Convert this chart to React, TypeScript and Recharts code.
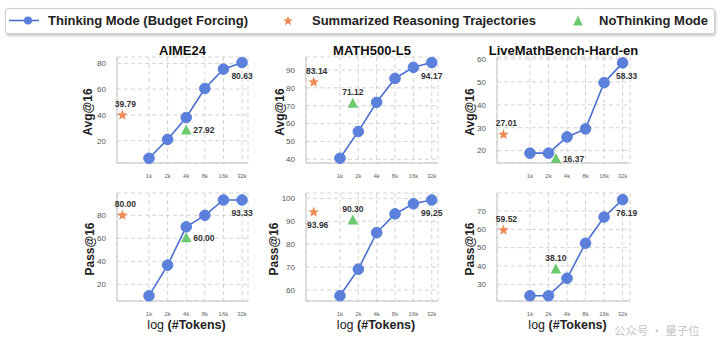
import { ComposedChart, Line, Scatter, XAxis, YAxis, CartesianGrid } from 'recharts';

// token budgets, placed on a log2 axis (1k = 0 ... 32k = 5)
const tokenLabels = ['1k', '2k', '4k', '8k', '16k', '32k'];
const tokenSteps = [0, 1, 2, 3, 4, 5];

// Thinking Mode (Budget Forcing)
const aimeAvg = [6.4, 21, 38, 60.5, 75.5, 80.63];
const mathAvg = [40.6, 55.6, 71.9, 85.3, 91.5, 94.17];
const liveAvg = [18.9, 18.9, 26, 29.5, 49.7, 58.33];
const aimePass = [10, 36.7, 70, 80, 93.33, 93.33];
const mathPass = [57.5, 69.1, 85, 93.2, 97.6, 99.25];
const livePass = [23.8, 23.8, 33.3, 52.4, 66.7, 76.19];

// single points: AIME24, MATH500-L5, LiveMathBench-Hard-en
const summarizedAvg = [39.79, 83.14, 27.01];
const summarizedPass = [80.0, 93.96, 59.52];
const noThinkingAvg = [27.92, 71.12, 16.37];
const noThinkingPass = [60.0, 90.3, 38.1];
const noThinkingStep = [2, 0.7, 1.4];
const summarizedStep = -1.43;

const benchmarks = ['AIME24', 'MATH500-L5', 'LiveMathBench-Hard-en'];

const FONT = '"Liberation Sans", Arial, sans-serif';
const BLUE = '#5b80db';
const LINE_BLUE = '#4b6fcf';
const ORANGE = '#ee8b55';
const GREEN = '#6cc96f';

const cols = [
  { left: 117, right: 248, xDomain: [-1.72, 5.32] },
  { left: 306, right: 438, xDomain: [-1.85, 5.34] },
  { left: 497, right: 630, xDomain: [-1.78, 5.4] },
];
const rows = [
  { top: 57, bottom: 163 },
  { top: 193, bottom: 301 },
];

type Place = 'above' | 'below' | 'right';

interface PanelSpec {
  col: number;
  row: number;
  thinking: number[];
  summarized: number;
  noThinking: number;
  triStep: number;
  yDomain: [number, number];
  yTicks: number[];
  starPlace: Place;
  triPlace: Place;
  lastDx: number;
}

const panels: PanelSpec[] = [
  { col: 0, row: 0, thinking: aimeAvg, summarized: summarizedAvg[0], noThinking: noThinkingAvg[0], triStep: noThinkingStep[0], yDomain: [2.7, 84.9], yTicks: [20, 40, 60, 80], starPlace: 'above', triPlace: 'right', lastDx: 0 },
  { col: 1, row: 0, thinking: mathAvg, summarized: summarizedAvg[1], noThinking: noThinkingAvg[1], triStep: noThinkingStep[1], yDomain: [37.9, 97.3], yTicks: [40, 50, 60, 70, 80, 90], starPlace: 'above', triPlace: 'above', lastDx: 0 },
  { col: 2, row: 0, thinking: liveAvg, summarized: summarizedAvg[2], noThinking: noThinkingAvg[2], triStep: noThinkingStep[2], yDomain: [14.6, 60.9], yTicks: [20, 30, 40, 50, 60], starPlace: 'above', triPlace: 'right', lastDx: 4 },
  { col: 0, row: 1, thinking: aimePass, summarized: summarizedPass[0], noThinking: noThinkingPass[0], triStep: noThinkingStep[0], yDomain: [5.5, 99.4], yTicks: [20, 40, 60, 80], starPlace: 'above', triPlace: 'right', lastDx: 0 },
  { col: 1, row: 1, thinking: mathPass, summarized: summarizedPass[1], noThinking: noThinkingPass[1], triStep: noThinkingStep[1], yDomain: [55.2, 102.3], yTicks: [60, 70, 80, 90, 100], starPlace: 'below', triPlace: 'above', lastDx: 0 },
  { col: 2, row: 1, thinking: livePass, summarized: summarizedPass[2], noThinking: noThinkingPass[2], triStep: noThinkingStep[2], yDomain: [20.9, 79.8], yTicks: [30, 40, 50, 60, 70], starPlace: 'above', triPlace: 'above', lastDx: 4 },
];

const yLabelX = [
  [88, 280, 470],
  [90, 274, 470],
];

function starPath(cx: number, cy: number, R: number, r: number) {
  let d = '';
  for (let i = 0; i < 10; i++) {
    const rad = i % 2 === 0 ? R : r;
    const a = -Math.PI / 2 + (i * Math.PI) / 5;
    d += (i === 0 ? 'M' : 'L') + (cx + rad * Math.cos(a)).toFixed(2) + ',' + (cy + rad * Math.sin(a)).toFixed(2);
  }
  return d + 'Z';
}

function triPath(cx: number, cy: number, w: number, h: number) {
  return `M${cx},${cy - h * 0.6}L${cx + w / 2},${cy + h * 0.4}L${cx - w / 2},${cy + h * 0.4}Z`;
}

function valueText(cx: number, cy: number, value: number, place: Place, dx = 0) {
  const txt = value.toFixed(2);
  const common = { fontSize: 8.5, fontWeight: 'bold' as const, fill: '#333', fontFamily: FONT, dominantBaseline: 'central' as const };
  if (place === 'right') {
    return <text x={cx + 7} y={cy} textAnchor="start" {...common}>{txt}</text>;
  }
  const dy = place === 'above' ? -11.5 : 13;
  return <text x={cx + dx} y={cy + dy} textAnchor="middle" {...common}>{txt}</text>;
}

function Panel({ spec }: { spec: PanelSpec }) {
  const c = cols[spec.col];
  const r = rows[spec.row];
  const w = c.right - c.left;
  const h = r.bottom - r.top;
  const Y_W = 40;
  const M_TOP = 5;
  const M_RIGHT = 14;
  const X_H = 20;

  const lineData = tokenSteps.map((x, i) => ({ x, y: spec.thinking[i] }));
  const starData = [{ x: summarizedStep, y: spec.summarized }];
  const triData = [{ x: spec.triStep, y: spec.noThinking }];
  const last = lineData.length - 1;

  return (
    <div style={{ position: 'absolute', left: c.left - Y_W, top: r.top - M_TOP }}>
      <ComposedChart
        width={w + Y_W + M_RIGHT}
        height={h + M_TOP + X_H}
        margin={{ top: M_TOP, right: M_RIGHT, left: 0, bottom: 0 }}
      >
        <CartesianGrid stroke="#d4d4d4" strokeDasharray="4 3" />
        <XAxis
          type="number"
          dataKey="x"
          domain={c.xDomain}
          ticks={tokenSteps}
          tickFormatter={(v: number) => tokenLabels[v]}
          height={X_H}
          axisLine={{ stroke: '#c4c4c4' }}
          tickLine={false}
          tickMargin={5}
          tick={{ fontSize: 6, fill: '#666', fontFamily: FONT }}
          interval={0}
        />
        <YAxis
          type="number"
          dataKey="y"
          domain={spec.yDomain}
          ticks={spec.yTicks}
          width={Y_W}
          axisLine={{ stroke: '#c4c4c4' }}
          tickLine={false}
          tickMargin={5}
          tick={{ fontSize: 8, fill: '#555', fontFamily: FONT }}
          interval={0}
        />
        <Line
          data={lineData}
          dataKey="y"
          stroke={LINE_BLUE}
          strokeWidth={1.6}
          isAnimationActive={false}
          dot={(p: any) => (
            <g key={`dot-${p.index}`}>
              <circle cx={p.cx} cy={p.cy} r={5.3} fill={BLUE} stroke={BLUE} />
              {p.index === last ? valueText(p.cx, p.cy, spec.thinking[last], 'below', spec.lastDx) : null}
            </g>
          )}
          activeDot={false}
        />
        <Scatter
          data={starData}
          dataKey="y"
          isAnimationActive={false}
          shape={(p: any) => (
            <g>
              <path d={starPath(p.cx, p.cy, 5.6, 2.4)} fill={ORANGE} />
              {valueText(p.cx, p.cy, spec.summarized, spec.starPlace, spec.starPlace === 'below' ? 4 : 3)}
            </g>
          )}
        />
        <Scatter
          data={triData}
          dataKey="y"
          isAnimationActive={false}
          shape={(p: any) => (
            <g>
              <path d={triPath(p.cx, p.cy, 10.5, 10)} fill={GREEN} />
              {valueText(p.cx, p.cy, spec.noThinking, spec.triPlace)}
            </g>
          )}
        />
      </ComposedChart>
    </div>
  );
}

export default function App() {
  return (
    <div style={{ position: 'absolute', left: 0, top: 0, width: 720, height: 346, background: '#fff', fontFamily: FONT }}>
      <div
        style={{
          position: 'absolute',
          left: 5,
          top: 8,
          width: 708,
          height: 24,
          border: '1px solid #cfcfcf',
          borderRadius: 3,
          boxShadow: '1px 2px 3px rgba(0,0,0,0.22)',
          background: '#fff',
        }}
      />
      <svg width={720} height={346} style={{ position: 'absolute', left: 0, top: 0 }}>
        {/* legend */}
        <line x1={9} y1={20.5} x2={39} y2={20.5} stroke={LINE_BLUE} strokeWidth={1.6} />
        <circle cx={28} cy={20.5} r={4} fill={BLUE} />
        <text x={48} y={20.5} fontSize={13} fontWeight="bold" fill="#222" dominantBaseline="central" fontFamily={FONT}>
          Thinking Mode (Budget Forcing)
        </text>
        <path d={starPath(288, 21, 5.2, 2.2)} fill={ORANGE} />
        <text x={312} y={20.5} fontSize={13} fontWeight="bold" fill="#222" dominantBaseline="central" fontFamily={FONT}>
          Summarized Reasoning Trajectories
        </text>
        <path d={triPath(578, 21.5, 9.5, 10)} fill={GREEN} />
        <text x={599} y={20.5} fontSize={13} fontWeight="bold" fill="#222" dominantBaseline="central" fontFamily={FONT}>
          NoThinking Mode
        </text>

        {/* titles */}
        {benchmarks.map((b, i) => (
          <text
            key={b}
            x={(cols[i].left + cols[i].right) / 2}
            y={50}
            textAnchor="middle"
            dominantBaseline="central"
            fontSize={13}
            fontWeight="bold"
            fill="#111"
            fontFamily={FONT}
          >
            {b}
          </text>
        ))}

        {/* y titles */}
        {rows.map((r, ri) =>
          cols.map((c, ci) => {
            const cy = (r.top + r.bottom) / 2 + 2;
            const cx = yLabelX[ri][ci];
            return (
              <text
                key={`yl-${ri}-${ci}`}
                x={cx}
                y={cy}
                transform={`rotate(-90 ${cx} ${cy})`}
                textAnchor="middle"
                dominantBaseline="central"
                fontSize={12}
                fontWeight="bold"
                fill="#222"
                fontFamily={FONT}
              >
                {ri === 0 ? 'Avg@16' : 'Pass@16'}
              </text>
            );
          })
        )}

        {/* x titles */}
        {cols.map((c, ci) => (
          <text
            key={`xl-${ci}`}
            x={(c.left + c.right) / 2 + 4}
            y={325}
            textAnchor="middle"
            dominantBaseline="central"
            fontSize={12.5}
            fill="#222"
            fontFamily={FONT}
          >
            <tspan>log </tspan>
            <tspan fontWeight="bold">(#Tokens)</tspan>
          </text>
        ))}
      </svg>

      {panels.map((p, i) => (
        <Panel key={i} spec={p} />
      ))}

      <svg width={720} height={346} style={{ position: 'absolute', left: 0, top: 0, pointerEvents: 'none' }}>
        <text x={614} y={330} fontSize={11.5} fill="#b8b8b8" fillOpacity={0.85} dominantBaseline="central" fontFamily='"Noto Sans CJK SC", sans-serif'>
          公众号 · 量子位
        </text>
      </svg>
    </div>
  );
}
